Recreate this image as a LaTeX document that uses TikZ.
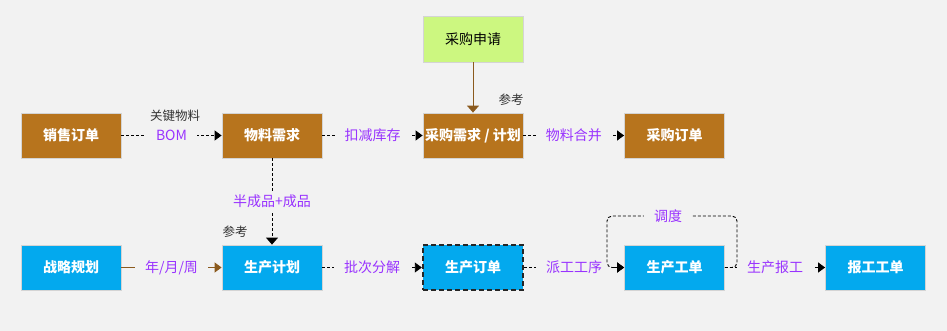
\documentclass[tikz,border=0pt]{standalone}
\usepackage{fontspec}
\setmainfont{Noto Sans CJK SC}
\usetikzlibrary{arrows.meta}
\definecolor{bg}{HTML}{F2F2F2}
\definecolor{brownbox}{HTML}{B7741D}
\definecolor{bluebox}{HTML}{03A9EE}
\definecolor{greenbox}{HTML}{CCF780}
\definecolor{boxline}{HTML}{D4D4D4}
\definecolor{lblpurple}{HTML}{9933FF}
\definecolor{lblgray}{HTML}{333333}
\definecolor{brownline}{HTML}{8B5A1E}
\tikzset{
  box/.style={minimum width=100pt, minimum height=45pt, inner sep=0pt, draw=boxline, line width=0.8pt, font=\fontsize{14}{16}\selectfont\bfseries, text=white},
  brownnode/.style={box, fill=brownbox},
  bluenode/.style={box, fill=bluebox},
  greennode/.style={box, fill=greenbox, text=black, font=\fontsize{14}{16}\selectfont, minimum height=46pt},
  dline/.style={draw=black, line width=0.9pt, dash pattern=on 3pt off 2pt, -{Triangle[length=7pt,width=10pt]}},
  bline/.style={draw=brownline, line width=1pt, -{Triangle[length=7pt,width=12pt]}},
  lbl/.style={fill=bg, text=lblpurple, inner xsep=10pt, inner ysep=4pt, font=\fontsize{14}{16}\selectfont},
  glbl/.style={text=lblgray, inner sep=1pt, font=\fontsize{12.5}{14}\selectfont},
}
\begin{document}
\begin{tikzpicture}[x=1pt,y=-1pt]
\useasboundingbox[fill=bg] (0,0) rectangle (947,331);
% row 1
\node[brownnode] (xs) at (71,135.5) {销售订单};
\node[brownnode] (wl) at (272,135.5) {物料需求};
\node[brownnode] (cgxq) at (473,135.5) {采购需求 / 计划};
\node[brownnode] (cgdd) at (674.5,135.5) {采购订单};
\node[greennode] (cgsq) at (473,39) {采购申请};
% row 2
\node[bluenode] (zl) at (71,267.5) {战略规划};
\node[bluenode] (scjh) at (272,267.5) {生产计划};
\node[bluenode, draw=black!85, line width=2.4pt, dash pattern=on 5pt off 3pt] (scdd) at (473,267.5) {生产订单};
\node[bluenode] (scgd) at (674.5,267.5) {生产工单};
\node[bluenode] (bggd) at (875.5,267.5) {报工工单};
% edges row 1
\draw[dline] (xs) -- (wl) node[midway, lbl] (bom) {BOM};
\node[glbl] (gjwl) at (175,115.5) {关键物料};
\draw[dline] (wl) -- (cgxq) node[midway, lbl] {扣减库存};
\draw[dline] (cgxq) -- (cgdd) node[midway, lbl] {物料合并};
\draw[bline] (cgsq) -- (cgxq);
\node[glbl] (ck1) at (511,99.5) {参考};
% vertical
\draw[dline, -{Triangle[length=7pt,width=12pt]}] (wl) -- (scjh) node[midway, lbl] {半成品+成品};
\node[glbl] (ck2) at (235,232) {参考};
% edges row 2
\draw[bline, -{Triangle[length=7pt,width=10pt]}] (zl) -- (scjh) node[midway, lbl] {年/月/周};
\draw[dline] (scjh) -- (scdd) node[midway, lbl] {批次分解};
\draw[dline] (scdd) -- (scgd) node[midway, lbl] {派工工序};
\draw[dline] (scgd) -- (bggd) node[midway, lbl] {生产报工};
\coordinate (lr) at (737,216);
\coordinate (ll) at (607,216);
\draw[dline, rounded corners=5pt] (scgd.east) -| (lr) -- (ll) |- (scgd.west);
\node[lbl] (dd) at (668,216) {调度};
\end{tikzpicture}
\end{document}
